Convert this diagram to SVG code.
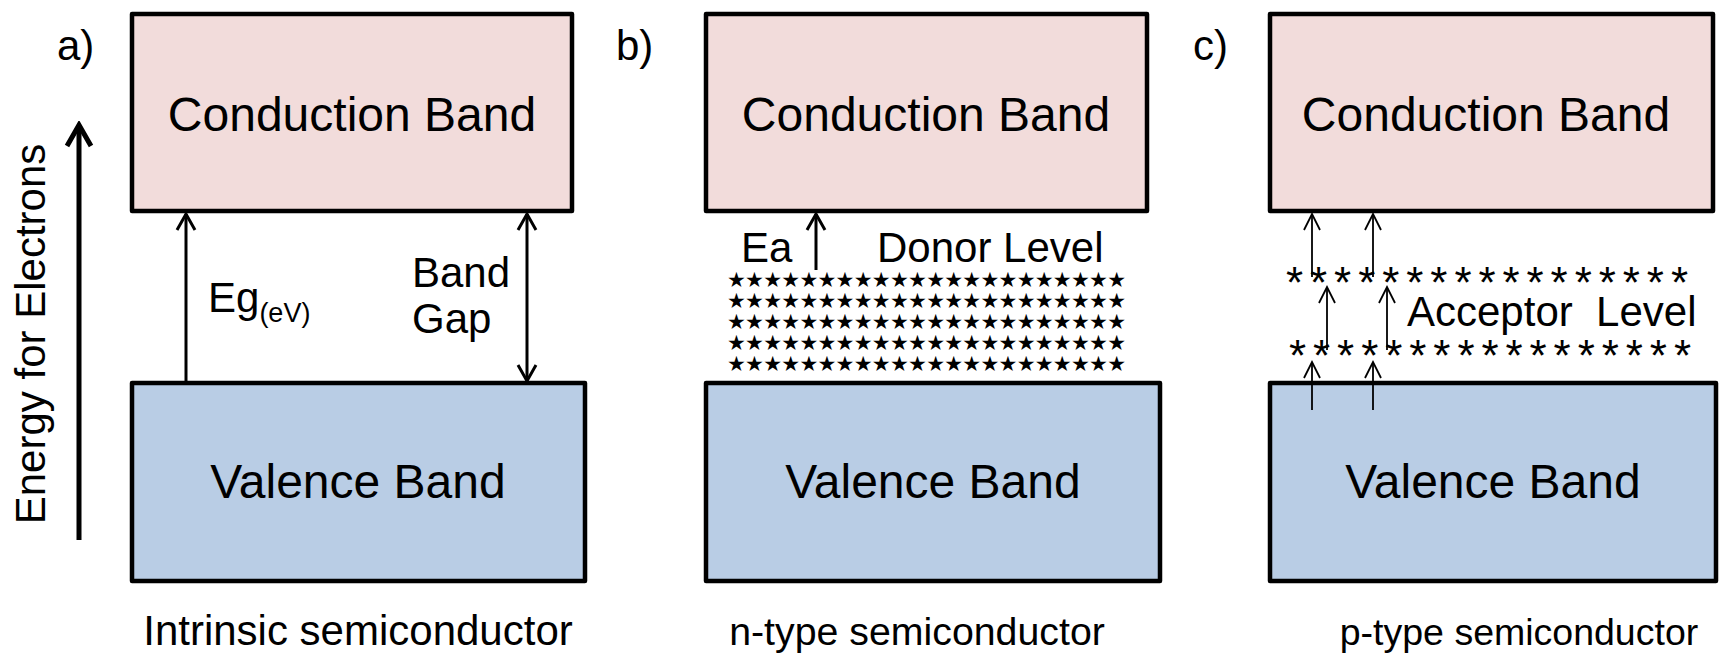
<svg xmlns="http://www.w3.org/2000/svg" width="1719" height="654" viewBox="0 0 1719 654">
<style>
text{font-family:"Liberation Sans",Arial,sans-serif;fill:#000}
.band{font-size:48px;text-anchor:middle}
.lbl{font-size:42px}
.cap{text-anchor:middle}
.cb{fill:#F2DCDB;stroke:#000;stroke-width:4.5;stroke-linejoin:round}
.vb{fill:#B9CDE5;stroke:#000;stroke-width:4.5;stroke-linejoin:round}
.ar{stroke:#000;stroke-width:3;fill:none}
.thin{stroke:#000;stroke-width:1.8;fill:none}
.star{font-family:"DejaVu Sans",sans-serif;font-size:21px}
.ast{font-size:44px}
</style>
<defs>
<marker id="hd" markerUnits="userSpaceOnUse" viewBox="-18 -12 22 24" markerWidth="22" markerHeight="24" refX="0" refY="0" orient="auto-start-reverse">
<path d="M-16,-9 L0,0 L-16,9" fill="none" stroke="#000" stroke-width="3"/>
</marker>
<marker id="hdThin" markerUnits="userSpaceOnUse" viewBox="-18 -11 22 22" markerWidth="22" markerHeight="22" refX="0" refY="0" orient="auto-start-reverse">
<path d="M-16,-8 L0,0 L-16,8" fill="none" stroke="#000" stroke-width="1.8"/>
</marker>
<marker id="hdBig" markerUnits="userSpaceOnUse" viewBox="-24 -16 28 32" markerWidth="28" markerHeight="32" refX="0" refY="0" orient="auto">
<path d="M-21,-12 L0,0 L-21,12" fill="none" stroke="#000" stroke-width="5"/>
</marker>
</defs>

<g id="axis">
<line x1="79" y1="540" x2="79" y2="125" stroke="#000" stroke-width="5" marker-end="url(#hdBig)"/>
<text class="lbl" transform="translate(45,334) rotate(-90)" text-anchor="middle">Energy for Electrons</text>
</g>

<g id="panel-a">
<text class="lbl" x="57" y="60">a)</text>
<g id="a-conduction"><rect class="cb" x="132" y="14" width="440" height="197"/><text class="band" x="352" y="131">Conduction Band</text></g>
<g id="a-valence"><rect class="vb" x="132" y="383" width="453" height="198"/><text class="band" x="358" y="498">Valence Band</text></g>
<text class="lbl" x="208" y="312">Eg<tspan font-size="27" dy="10">(eV)</tspan></text>
<text class="lbl" x="412" y="287">Band</text>
<text class="lbl" x="412" y="333">Gap</text>
<text class="cap" x="358" y="645" font-size="42">Intrinsic semiconductor</text>
</g>

<g id="panel-b">
<text class="lbl" x="616" y="60">b)</text>
<g id="b-conduction"><rect class="cb" x="706" y="14" width="441" height="197"/><text class="band" x="926" y="131">Conduction Band</text></g>
<g id="b-valence"><rect class="vb" x="706" y="383" width="454" height="198"/><text class="band" x="933" y="498">Valence Band</text></g>
<text class="lbl" x="741" y="262">Ea</text>
<text class="lbl" x="877" y="262">Donor Level</text>
<g id="donor-level">
<text class="star" x="727" y="280" dominant-baseline="central" textLength="399" lengthAdjust="spacing">★★★★★★★★★★★★★★★★★★★★★★</text>
<text class="star" x="727" y="301" dominant-baseline="central" textLength="399" lengthAdjust="spacing">★★★★★★★★★★★★★★★★★★★★★★</text>
<text class="star" x="727" y="322" dominant-baseline="central" textLength="399" lengthAdjust="spacing">★★★★★★★★★★★★★★★★★★★★★★</text>
<text class="star" x="727" y="343" dominant-baseline="central" textLength="399" lengthAdjust="spacing">★★★★★★★★★★★★★★★★★★★★★★</text>
<text class="star" x="727" y="364" dominant-baseline="central" textLength="399" lengthAdjust="spacing">★★★★★★★★★★★★★★★★★★★★★★</text>
</g>
<text class="cap" x="917" y="645" font-size="39.3">n-type semiconductor</text>
</g>

<g id="panel-c">
<text class="lbl" x="1193" y="60">c)</text>
<g id="c-conduction"><rect class="cb" x="1270" y="14" width="443" height="197"/><text class="band" x="1486" y="131">Conduction Band</text></g>
<g id="c-valence"><rect class="vb" x="1270" y="383" width="446" height="198"/><text class="band" x="1493" y="498">Valence Band</text></g>
<g id="acceptor-level">
<text class="ast" x="1286" y="298" textLength="402" lengthAdjust="spacing">*****************</text>
<text class="ast" x="1289" y="371" textLength="402" lengthAdjust="spacing">*****************</text>
</g>
<text class="lbl" x="1407" y="326">Acceptor&#160; Level</text>
<text class="cap" x="1519" y="645" font-size="37.5">p-type semiconductor</text>
</g>

<g id="connectors">
<line class="ar" x1="186" y1="382" x2="186" y2="214" marker-end="url(#hd)"/>
<line class="ar" x1="527" y1="214" x2="527" y2="381" marker-start="url(#hd)" marker-end="url(#hd)"/>
<line class="ar" x1="816" y1="270" x2="816" y2="214" marker-end="url(#hd)"/>
<line class="thin" x1="1312" y1="277" x2="1312" y2="214" marker-end="url(#hdThin)"/>
<line class="thin" x1="1373" y1="277" x2="1373" y2="214" marker-end="url(#hdThin)"/>
<line class="thin" x1="1327" y1="350" x2="1327" y2="287" marker-end="url(#hdThin)"/>
<line class="thin" x1="1387" y1="350" x2="1387" y2="287" marker-end="url(#hdThin)"/>
<line class="thin" x1="1312" y1="410" x2="1312" y2="362" marker-end="url(#hdThin)"/>
<line class="thin" x1="1373" y1="410" x2="1373" y2="362" marker-end="url(#hdThin)"/>
</g>
</svg>
